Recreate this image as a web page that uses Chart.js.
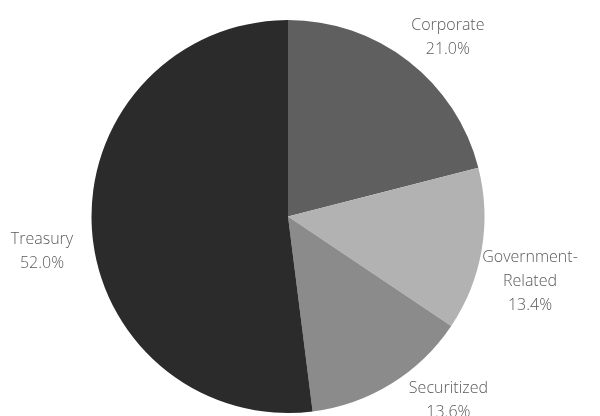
<!DOCTYPE html>
<html>
<head>
<meta charset="utf-8">
<script src="https://cdn.jsdelivr.net/npm/chart.js@4/dist/chart.umd.min.js"></script>
<style>
  html, body { margin: 0; padding: 0; background: #fff; }
  #wrap { width: 600px; height: 416px; }
</style>
</head>
<body>
<div id="wrap"><canvas id="chart"></canvas></div>
<script>
// Données du graphique
const categories = ['Corporate', 'Government-Related', 'Securitized', 'Treasury'];
const labelLines = [['Corporate'], ['Government-', 'Related'], ['Securitized'], ['Treasury']];
const shares = [21.0, 13.4, 13.6, 52.0];
const sliceColors = ['#5f5f5f', '#b2b2b2', '#8b8b8b', '#2b2b2b'];

// Décalages des étiquettes par rapport à la position radiale
const labelShift = [[10, 14], [1, 24], [32, -24], [-2, 20]];

// Étiquettes à l'extérieur des parts
const outsideLabels = {
    id: 'outsideLabels',
    afterDatasetsDraw(chart) {
        const ctx = chart.ctx;
        const meta = chart.getDatasetMeta(0);
        ctx.save();
        ctx.font = '300 16px "Open Sans"';
        ctx.fillStyle = '#5a5a5a';
        ctx.textAlign = 'center';
        ctx.textBaseline = 'middle';
        meta.data.forEach((arc, i) => {
            const mid = (arc.startAngle + arc.endAngle) / 2;
            const r = arc.outerRadius + 48;
            const x = arc.x + Math.cos(mid) * r + labelShift[i][0];
            const y = arc.y + Math.sin(mid) * r + labelShift[i][1];
            const lines = labelLines[i].concat([shares[i].toFixed(1) + '%']);
            const lh = 24;
            const top = y - (lines.length - 1) * lh / 2;
            lines.forEach((t, k) => ctx.fillText(t, x, top + k * lh));
        });
        ctx.restore();
    }
};

new Chart(document.getElementById('chart'), {
    type: 'pie',
    data: {
        labels: categories,
        datasets: [{
            data: shares,
            backgroundColor: sliceColors,
            borderWidth: 0
        }]
    },
    options: {
        responsive: true,
        maintainAspectRatio: false,
        animation: false,
        layout: { padding: { top: 20, bottom: 3, left: 0, right: 24 } },
        plugins: {
            legend: { display: false },
            tooltip: { enabled: false }
        }
    },
    plugins: [outsideLabels]
});
</script>
</body>
</html>
